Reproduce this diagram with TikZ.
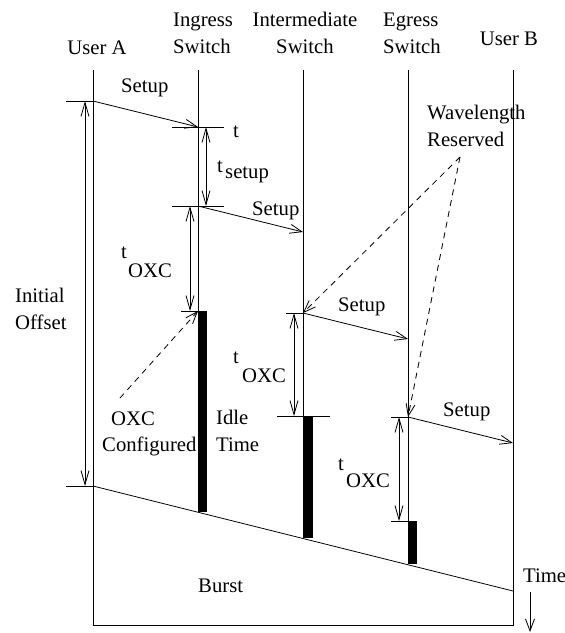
\documentclass[tikz,border=0pt]{standalone}
\usepackage{fontspec}
\setmainfont{Liberation Serif}
\usetikzlibrary{arrows.meta}

\begin{document}
\begin{tikzpicture}[x=1pt,y=-1pt,
  every node/.style={font=\fontsize{20.7}{27}\selectfont,inner sep=0pt},
  life/.style={line width=0.8pt},
  msg/.style={-{Straight Barb[length=12pt,width=9pt]},line width=0.8pt},
  span/.style={{Straight Barb[length=14pt,width=8pt]}-{Straight Barb[length=14pt,width=8pt]},line width=0.8pt},
  hint/.style={-{Straight Barb[length=12pt,width=9pt]},dash pattern=on 6pt off 5pt,line width=0.8pt},
  busy/.style={fill=black}
]
  \useasboundingbox (0,0) rectangle (565,633);

  % life lines and the burst
  \coordinate (uaT) at (93,70);   \coordinate (uaB) at (93,625);
  \coordinate (ubT) at (513,70);  \coordinate (ubB) at (513,625);
  \coordinate (inT) at (198,70);  \coordinate (inB) at (198,512);
  \coordinate (imT) at (303,70);  \coordinate (imB) at (303,538);
  \coordinate (egT) at (408,70);  \coordinate (egB) at (408,564);
  \coordinate (b0) at (93,486);   \coordinate (b1) at (513,591);
  \draw[life] (uaT) -- (uaB) -- (ubB) -- (ubT);
  \draw[life] (inT) -- (inB);
  \draw[life] (imT) -- (imB);
  \draw[life] (egT) -- (egB);
  \draw[life] (b0) -- (b1);

  % setup messages
  \coordinate (s0) at (93,101);  \coordinate (s1) at (198,127);
  \coordinate (s2) at (198,206); \coordinate (s3) at (303,232);
  \coordinate (s4) at (303,313); \coordinate (s5) at (408,339);
  \coordinate (s6) at (408,417); \coordinate (s7) at (513,443);
  \draw[msg] (s0) -- (s1);
  \draw[msg] (s2) -- (s3);
  \draw[msg] (s4) -- (s5);
  \draw[msg] (s6) -- (s7);

  % switch configured
  \coordinate (c1) at (198,311); \coordinate (c2) at (303,416); \coordinate (c3) at (408,521);
  \fill[busy] (c1) rectangle ([xshift=9pt]inB);
  \fill[busy] (c2) rectangle ([xshift=10pt]imB);
  \fill[busy] (c3) rectangle ([xshift=9pt]egB);

  % ticks and spans
  \draw[life] ([xshift=-27pt]s0) -- (s0);
  \draw[life] ([xshift=-27pt]b0) -- (b0);
  \draw[span] ([xshift=-8pt]s0) -- ([xshift=-8pt]b0);
  \draw[life] ([xshift=-26pt]s1) -- ([xshift=26pt]s1);
  \draw[life] ([xshift=-26pt]s2) -- ([xshift=26pt]s2);
  \draw[span] ([xshift=8pt]s1) -- ([xshift=8pt]s2);
  \draw[span] ([xshift=-8pt]s2) -- ([xshift=-8pt]c1);
  \draw[life] ([xshift=-17pt]c1) -- (c1);
  \draw[life] ([xshift=-17pt]s4) -- (s4);
  \draw[span] ([xshift=-9pt]s4) -- ([xshift=-9pt]c2);
  \draw[life] ([xshift=-26pt]c2) -- ([xshift=27pt]c2);
  \draw[life] ([xshift=-17pt]s6) -- (s6);
  \draw[span] ([xshift=-9pt]s6) -- ([xshift=-9pt]c3);
  \draw[life] ([xshift=-17pt]c3) -- (c3);

  % notes
  \coordinate (wr) at (460,157); \coordinate (oc) at (120,398);
  \draw[hint] (wr) -- (s4);
  \draw[hint] (wr) -- (s6);
  \draw[hint] (oc) -- (c1);
  \coordinate (tm) at (530,592); \coordinate (tmB) at (530,632);
  \draw[msg] (tm) -- (tmB);

  \node[anchor=base] (userA) at (97,54) {User A};
  \node[anchor=base west,align=left] (ingress) at (173,53) {Ingress\\Switch};
  \node[anchor=base,align=center] (inter) at (305,53) {Intermediate\\Switch};
  \node[anchor=base west,align=left] (egress) at (383,53) {Egress\\Switch};
  \node[anchor=base] (userB) at (509,45) {User B};

  \node[anchor=base west] (setupA) at (121,92) {Setup};
  \node[anchor=base west] (setupB) at (252,215) {Setup};
  \node[anchor=base west] (setupC) at (338,311) {Setup};
  \node[anchor=base west] (setupD) at (443,416) {Setup};

  \node[anchor=base west] (tlab) at (233,137) {t};
  \node[anchor=base west] (tsetA) at (217,172) {t};
  \node[anchor=base west] (tsetB) at (225,178) {setup};
  \node[anchor=base west] (toxcA) at (121,258) {t};
  \node[anchor=base west] (toxcB) at (128,277) {OXC};
  \node[anchor=base west] (toxcC) at (233,363) {t};
  \node[anchor=base west] (toxcD) at (242,382) {OXC};
  \node[anchor=base west] (toxcE) at (338,470) {t};
  \node[anchor=base west] (toxcF) at (346,487) {OXC};

  \node[anchor=base west,align=left] (wave) at (427,146) {Wavelength\\Reserved};
  \node[anchor=base west,align=left] (offset) at (15,329) {Initial\\Offset};
  \node[anchor=base west] (oxcA) at (111,425) {OXC};
  \node[anchor=base west] (oxcB) at (102,451) {Configured};
  \node[anchor=base west,align=left] (idle) at (216,451) {Idle\\Time};
  \node[anchor=base west] (burst) at (198,592) {Burst};
  \node[anchor=base west] (time) at (523,582) {Time};
\end{tikzpicture}
\end{document}
